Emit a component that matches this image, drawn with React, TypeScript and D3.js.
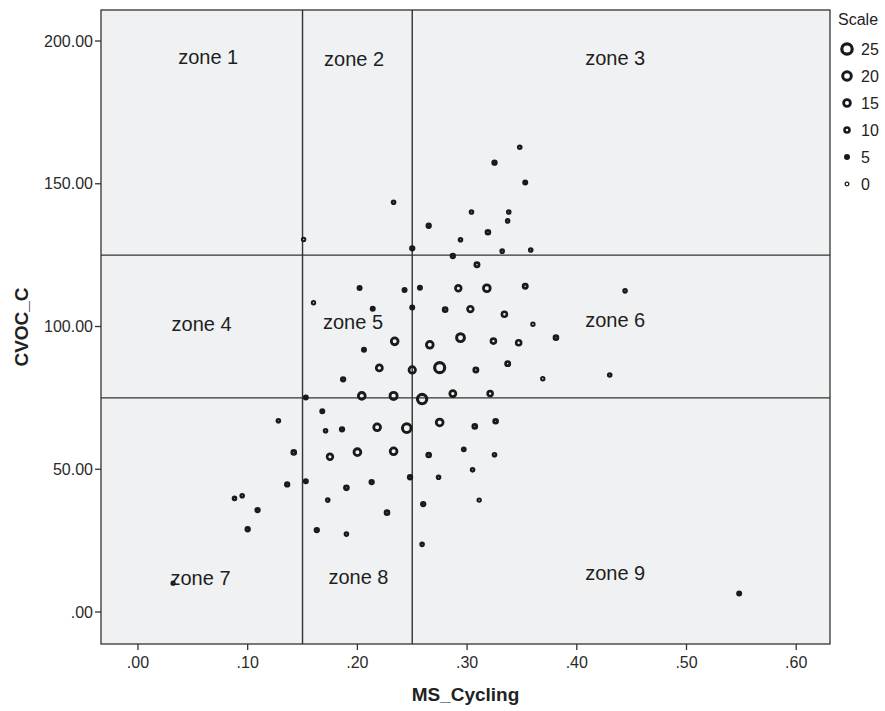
import React from 'react';
import * as d3 from 'd3';

// MS_Cycling (x), CVOC_C (y), Scale (marker size)
const msCycling = [
  0.348, 0.325, 0.353, 0.233, 0.304, 0.338, 0.337, 0.265, 0.294, 0.319,
  0.151, 0.250, 0.287, 0.309, 0.332, 0.358, 0.202, 0.243, 0.257, 0.292,
  0.318, 0.353, 0.160, 0.214, 0.250, 0.280, 0.303, 0.334, 0.360, 0.234,
  0.266, 0.294, 0.324, 0.347, 0.381, 0.206, 0.187, 0.220, 0.250, 0.275,
  0.308, 0.337, 0.369, 0.153, 0.204, 0.233, 0.259, 0.287, 0.321, 0.168,
  0.128, 0.171, 0.186, 0.218, 0.245, 0.275, 0.307, 0.326, 0.142, 0.175,
  0.200, 0.233, 0.265, 0.297, 0.325, 0.153, 0.136, 0.190, 0.213, 0.248,
  0.274, 0.305, 0.088, 0.095, 0.109, 0.173, 0.227, 0.260, 0.311, 0.100,
  0.163, 0.190, 0.259, 0.032, 0.444, 0.430, 0.548,
];
const cvocC = [
  162.8, 157.4, 150.4, 143.5, 140.1, 140.1, 137.0, 135.3, 130.4, 133.0,
  130.5, 127.4, 124.7, 121.6, 126.4, 126.8, 113.5, 112.8, 113.6, 113.4,
  113.4, 114.1, 108.3, 106.2, 106.7, 105.9, 106.1, 104.3, 100.8, 94.8,
  93.6, 96.1, 94.9, 94.3, 96.1, 91.9, 81.5, 85.5, 84.8, 85.6,
  84.8, 87.0, 81.7, 75.1, 75.7, 75.7, 74.6, 76.5, 76.5, 70.3,
  67.0, 63.5, 64.0, 64.7, 64.4, 66.4, 65.0, 66.8, 55.9, 54.4,
  56.0, 56.3, 55.0, 57.0, 55.1, 45.8, 44.7, 43.5, 45.5, 47.2,
  47.2, 49.8, 39.8, 40.7, 35.7, 39.2, 34.8, 37.8, 39.2, 29.0,
  28.7, 27.3, 23.7, 10.1, 112.5, 83.0, 6.5,
];
const scaleValues = [
  3, 6, 5, 3, 3, 3, 3, 6, 3, 7,
  2, 6, 6, 8, 3, 3, 5, 5, 5, 12,
  15, 8, 2, 5, 5, 7, 12, 10, 2, 15,
  15, 18, 10, 10, 7, 5, 6, 13, 14, 24,
  8, 8, 2, 5, 15, 16, 22, 13, 10, 5,
  3, 3, 6, 15, 20, 15, 7, 7, 7, 12,
  15, 15, 7, 4, 3, 5, 6, 7, 6, 6,
  3, 3, 3, 3, 6, 3, 7, 6, 2, 6,
  6, 3, 3, 1, 3, 3, 5,
];

const xTicks = [0, 0.1, 0.2, 0.3, 0.4, 0.5, 0.6];
const yTicks = [0, 50, 100, 150, 200];
const legendValues = [25, 20, 15, 10, 5, 0];
const zoneXCuts = [0.15, 0.25];
const zoneYCuts = [75, 125];
const zoneNames = ['zone 1', 'zone 2', 'zone 3', 'zone 4', 'zone 5', 'zone 6', 'zone 7', 'zone 8', 'zone 9'];
const zoneLabelX = [0.064, 0.197, 0.435, 0.058, 0.196, 0.435, 0.057, 0.201, 0.435];
const zoneLabelY = [194.4, 193.7, 194.0, 100.9, 101.6, 102.3, 11.9, 12.3, 13.7];

const FONT = 'Liberation Sans, Arial, sans-serif';

export default function App() {
  const W = 885, H = 711;
  const left = 101, right = 830, top = 10, bottom = 644;
  const x = d3.scaleLinear().domain([-0.0337, 0.6308]).range([left, right]);
  const y = d3.scaleLinear().domain([-11.2, 210.86]).range([bottom, top]);
  const rScale = d3.scaleLinear().domain([0, 5, 10, 15, 20, 25]).range([2.5, 3.0, 3.8, 4.8, 5.8, 6.8]);
  const swScale = d3.scaleLinear().domain([0, 5, 10, 15, 20, 25]).range([1.3, 3.0, 2.6, 2.8, 3.0, 3.2]);
  const fmt = (d: number) => d3.format('.2f')(d).replace(/^0\./, '.');

  const marker = (cx: number, cy: number, s: number, key: string) => {
    const R = rScale(s);
    const sw = Math.min(swScale(s), R);
    return (
      <circle key={key} cx={cx} cy={cy} r={R - sw / 2} fill="none" stroke="#1a1a1a" strokeWidth={sw} />
    );
  };

  const legendX = 847;
  const legendY0 = 49;
  const legendStep = 27;

  return (
    <svg width={W} height={H} style={{ position: 'absolute', left: 0, top: 0, background: '#fff' }} fontFamily={FONT}>
      <rect x={left} y={top} width={right - left} height={bottom - top} fill="#f0f1f3" />
      {zoneXCuts.map((v, i) => (
        <line key={'zx' + i} x1={x(v)} x2={x(v)} y1={top} y2={bottom} stroke="#333" strokeWidth={1.4} />
      ))}
      {zoneYCuts.map((v, i) => (
        <line key={'zy' + i} x1={left} x2={right} y1={y(v)} y2={y(v)} stroke="#333" strokeWidth={1.4} />
      ))}
      {zoneNames.map((n, i) => (
        <text key={'zl' + i} x={x(zoneLabelX[i])} y={y(zoneLabelY[i])} fontSize={20} fill="#1e1e1e" textAnchor="middle" dominantBaseline="central">{n}</text>
      ))}
      {msCycling.map((v, i) => marker(x(v), y(cvocC[i]), scaleValues[i], 'p' + i))}
      <rect x={left} y={top} width={right - left} height={bottom - top} fill="none" stroke="#333" strokeWidth={1.3} />
      {yTicks.map((t, i) => (
        <g key={'yt' + i}>
          <line x1={left - 6} x2={left} y1={y(t)} y2={y(t)} stroke="#333" strokeWidth={1.3} />
          <text x={left - 8} y={y(t)} fontSize={16} fill="#2a2a2a" textAnchor="end" dominantBaseline="central">{fmt(t)}</text>
        </g>
      ))}
      {xTicks.map((t, i) => (
        <g key={'xt' + i}>
          <line x1={x(t)} x2={x(t)} y1={bottom} y2={bottom + 6} stroke="#333" strokeWidth={1.3} />
          <text x={x(t)} y={662} fontSize={16} fill="#2a2a2a" textAnchor="middle" dominantBaseline="central">{fmt(t)}</text>
        </g>
      ))}
      <text x={(left + right) / 2} y={694} fontSize={19} fontWeight="bold" fill="#222" textAnchor="middle" dominantBaseline="central">MS_Cycling</text>
      <text transform={`translate(21,${(top + bottom) / 2}) rotate(-90)`} fontSize={19} fontWeight="bold" fill="#222" textAnchor="middle" dominantBaseline="central">CVOC_C</text>
      <text x={838} y={19} fontSize={16} fill="#222" dominantBaseline="central">Scale</text>
      {legendValues.map((v, i) => (
        <g key={'lg' + i}>
          {marker(legendX, legendY0 + i * legendStep, v, 'lm' + i)}
          <text x={861} y={legendY0 + i * legendStep} fontSize={16} fill="#222" dominantBaseline="central">{v}</text>
        </g>
      ))}
    </svg>
  );
}
